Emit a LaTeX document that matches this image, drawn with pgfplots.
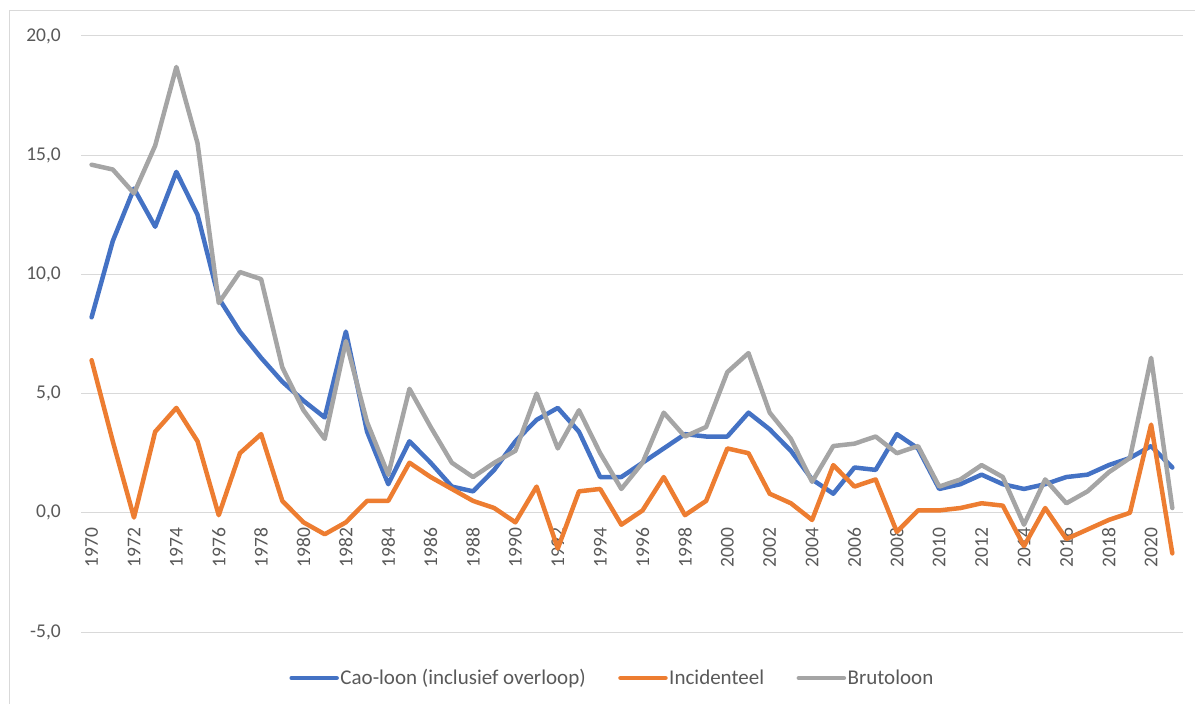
\documentclass[border=0pt]{standalone}
\usepackage{pgfplots}
\pgfplotsset{compat=1.18}
\usepackage{pgfplotstable}
\usepackage{fontspec}
\setmainfont{Carlito}
\definecolor{cblue}{HTML}{4472C4}
\definecolor{corange}{HTML}{ED7D31}
\definecolor{cgray}{HTML}{A5A5A5}
\definecolor{ctext}{HTML}{595959}
\definecolor{cgrid}{HTML}{D9D9D9}
\pgfplotstableread{
year cao inc bruto
1970 8.2 6.4 14.6
1971 11.4 3.0 14.4
1972 13.6 -0.2 13.4
1973 12.0 3.4 15.4
1974 14.3 4.4 18.7
1975 12.5 3.0 15.5
1976 9.0 -0.1 8.8
1977 7.6 2.5 10.1
1978 6.5 3.3 9.8
1979 5.5 0.5 6.1
1980 4.7 -0.4 4.3
1981 4.0 -0.9 3.1
1982 7.6 -0.4 7.2
1983 3.4 0.5 3.8
1984 1.2 0.5 1.6
1985 3.0 2.1 5.2
1986 2.1 1.5 3.6
1987 1.1 1.0 2.1
1988 0.9 0.5 1.5
1989 1.8 0.2 2.1
1990 3.0 -0.4 2.6
1991 3.9 1.1 5.0
1992 4.4 -1.5 2.7
1993 3.4 0.9 4.3
1994 1.5 1.0 2.5
1995 1.5 -0.5 1.0
1996 2.1 0.1 2.1
1997 2.7 1.5 4.2
1998 3.3 -0.1 3.2
1999 3.2 0.5 3.6
2000 3.2 2.7 5.9
2001 4.2 2.5 6.7
2002 3.5 0.8 4.2
2003 2.6 0.4 3.1
2004 1.4 -0.3 1.3
2005 0.8 2.0 2.8
2006 1.9 1.1 2.9
2007 1.8 1.4 3.2
2008 3.3 -0.8 2.5
2009 2.7 0.1 2.8
2010 1.0 0.1 1.1
2011 1.2 0.2 1.4
2012 1.6 0.4 2.0
2013 1.2 0.3 1.5
2014 1.0 -1.4 -0.5
2015 1.2 0.2 1.4
2016 1.5 -1.1 0.4
2017 1.6 -0.7 0.9
2018 2.0 -0.3 1.7
2019 2.3 0.0 2.3
2020 2.8 3.7 6.5
2021 1.9 -1.7 0.2
}\datatable
\begin{document}
\begin{tikzpicture}
\useasboundingbox (0,0) rectangle (1195bp,704bp);
\draw[cgrid, line width=1bp] (9bp,-20bp) rectangle (1220bp,693bp);
\begin{axis}[
  at={(81bp,72bp)}, anchor=south west,
  scale only axis, width=1102bp, height=596bp,
  xmin=1969.5, xmax=2021.5, ymin=-5, ymax=20,
  axis x line*=middle, axis y line*=left,
  x axis line style={draw=none}, y axis line style={draw=none},
  major tick length=0pt,
  xtick={1970,1972,...,2020},
  xticklabel style={/pgf/number format/.cd, 1000 sep={}, assume math mode=true, /tikz/.cd,
    yshift=-15bp, rotate=90, anchor=east, inner sep=0pt, font=\fontsize{19.5bp}{22bp}\selectfont, text=ctext},
  ytick={-5,0,...,20},
  yticklabel style={/pgf/number format/.cd, fixed, fixed zerofill, precision=1, use comma, assume math mode=true, /tikz/.cd,
    anchor=east, inner sep=0pt, xshift=-20bp, font=\fontsize{19.5bp}{22bp}\selectfont, text=ctext},
  ymajorgrids, grid style={cgrid, line width=1bp},
  legend columns=3,
  legend style={at={(axis description cs:0.482,-0.0772)}, anchor=center, draw=none, fill=none,
    font=\fontsize{21bp}{24bp}\selectfont, text=ctext,
    nodes={inner sep=1.5bp},
    /tikz/every even column/.append style={column sep=31bp}, inner sep=0pt},
  legend cell align=left,
  legend image code/.code={\draw[#1, line width=4.5bp, line cap=round] (0bp,0bp) -- (45bp,0bp);},
  every axis plot/.append style={line width=4.5bp, line join=round, line cap=round, mark=none},
]
\addplot[cblue] table[x=year, y=cao] {\datatable};
\addlegendentry{Cao-loon (inclusief overloop)}
\addplot[corange] table[x=year, y=inc] {\datatable};
\addlegendentry{Incidenteel}
\addplot[cgray] table[x=year, y=bruto] {\datatable};
\addlegendentry{Brutoloon}
\end{axis}
\end{tikzpicture}
\end{document}
